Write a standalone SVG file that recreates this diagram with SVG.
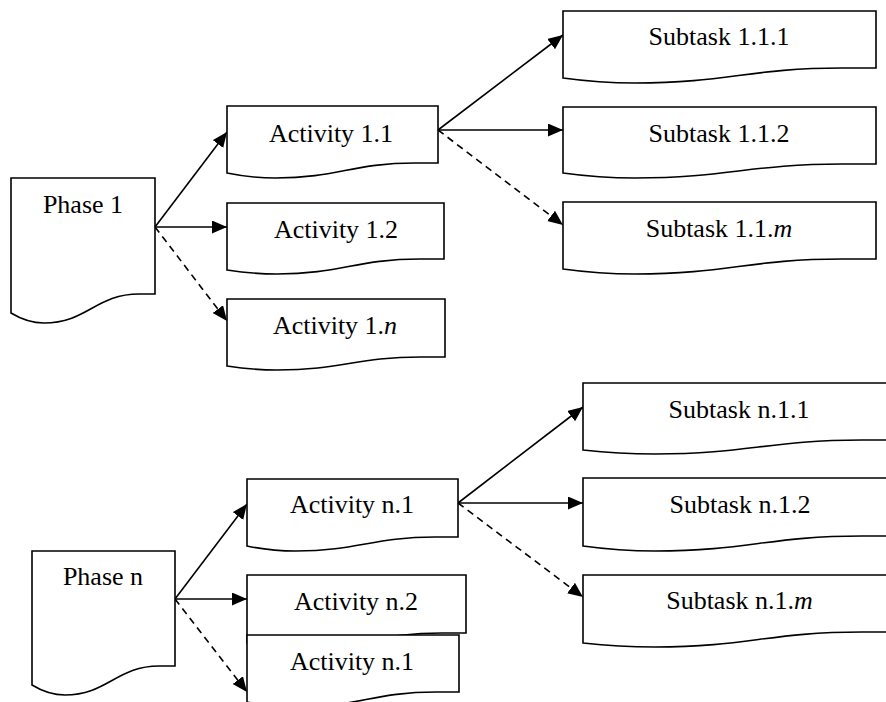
<svg xmlns="http://www.w3.org/2000/svg" width="886" height="702" viewBox="0 0 886 702">
<style>
.box{fill:#fff;stroke:#000;stroke-width:1.6;stroke-linejoin:miter}
.lbl{font-family:"Liberation Serif","Times New Roman",serif;font-size:26px;fill:#000;text-anchor:middle}
.it{font-style:italic}
.con{fill:none;stroke:#000;stroke-width:1.6}
.dash{stroke-dasharray:7,5}
</style>
<defs>
<marker id="arr" markerUnits="userSpaceOnUse" markerWidth="16" markerHeight="14" refX="15" refY="6.5" orient="auto">
<path d="M0,0 L15,6.5 L0,13 Z" fill="#000"/>
</marker>
</defs>
<rect width="886" height="702" fill="#fff"/>

<g id="connectors">
<line class="con" x1="155" y1="227" x2="227" y2="132" marker-end="url(#arr)"/>
<line class="con" x1="155" y1="227" x2="227" y2="227" marker-end="url(#arr)"/>
<line class="con dash" x1="155" y1="227" x2="227" y2="321" marker-end="url(#arr)"/>
<line class="con" x1="438" y1="130" x2="563" y2="35" marker-end="url(#arr)"/>
<line class="con" x1="438" y1="130" x2="563" y2="130" marker-end="url(#arr)"/>
<line class="con dash" x1="438" y1="130" x2="563" y2="225" marker-end="url(#arr)"/>
<line class="con" x1="175" y1="599" x2="247" y2="504" marker-end="url(#arr)"/>
<line class="con" x1="175" y1="599" x2="247" y2="599" marker-end="url(#arr)"/>
<line class="con dash" x1="175" y1="599" x2="247" y2="692" marker-end="url(#arr)"/>
<line class="con" x1="458" y1="503" x2="583" y2="407" marker-end="url(#arr)"/>
<line class="con" x1="458" y1="503" x2="583" y2="503" marker-end="url(#arr)"/>
<line class="con dash" x1="458" y1="503" x2="583" y2="597" marker-end="url(#arr)"/>
</g>

<g id="phase1">
<path class="box" d="M11,178 H155 V294 H139 C96,294 87,323 44,323 Q27.5,323 11,313 Z"/>
<text class="lbl" x="83" y="213">Phase 1</text>
</g>
<g id="activity1_1">
<path class="box" d="M227,106 H438 V163 H415 C352,163 338,178 275.5,178 Q251,178 227,173 Z"/>
<text class="lbl" x="331" y="142">Activity 1.1</text>
</g>
<g id="activity1_2">
<path class="box" d="M227,203 H444 V259 H420 C356,259 341,274 277,274 Q252,274 227,270 Z"/>
<text class="lbl" x="336" y="238">Activity 1.2</text>
</g>
<g id="activity1_n">
<path class="box" d="M227,299 H445 V357 H421 C356,357 342,370 277,370 Q252,370 227,366 Z"/>
<text class="lbl" x="335" y="334">Activity 1.<tspan class="it">n</tspan></text>
</g>
<g id="subtask1_1_1">
<path class="box" d="M563,11 H876 V68 H842 C749,68 728,83 635,83 Q599,83 563,78 Z"/>
<text class="lbl" x="719" y="45">Subtask 1.1.1</text>
</g>
<g id="subtask1_1_2">
<path class="box" d="M563,107 H876 V164 H842 C749,164 728,178 635,178 Q599,178 563,173 Z"/>
<text class="lbl" x="719" y="142">Subtask 1.1.2</text>
</g>
<g id="subtask1_1_m">
<path class="box" d="M563,202 H876 V259 H842 C749,259 728,274 635,274 Q599,274 563,269 Z"/>
<text class="lbl" x="719" y="237">Subtask 1.1.<tspan class="it">m</tspan></text>
</g>

<g id="phaseN">
<path class="box" d="M32,551 H175 V666 H159 C117,666 107,695 65,695 Q48.5,695 32,685 Z"/>
<text class="lbl" x="103" y="585">Phase n</text>
</g>
<g id="activityN_1">
<path class="box" d="M247,479 H458 V537 H435 C372,537 358.5,551 295.5,551 Q271,551 247,546 Z"/>
<text class="lbl" x="352" y="513">Activity n.1</text>
</g>
<g id="activityN_2">
<path class="box" d="M247,575 H466 V633 H442 C377,633 362,648 297,648 Q272,648 247,643 Z"/>
<text class="lbl" x="356" y="610">Activity n.2</text>
</g>
<g id="activityN_1b">
<path class="box" d="M247,635 H459 V692 H436 C373,692 359,707 296,707 Q271.5,707 247,702 Z"/>
<text class="lbl" x="352" y="670">Activity n.1</text>
</g>
<g id="subtaskN_1_1">
<path class="box" d="M583,383 H896 V440 H862 C769,440 748,454 655,454 Q619,454 583,450 Z"/>
<text class="lbl" x="739" y="418">Subtask n.1.1</text>
</g>
<g id="subtaskN_1_2">
<path class="box" d="M583,478 H896 V536 H862 C769,536 748,551 655,551 Q619,551 583,546 Z"/>
<text class="lbl" x="740" y="513">Subtask n.1.2</text>
</g>
<g id="subtaskN_1_m">
<path class="box" d="M583,575 H896 V632 H862 C769,632 748,647 655,647 Q619,647 583,643 Z"/>
<text class="lbl" x="739.5" y="609">Subtask n.1.<tspan class="it">m</tspan></text>
</g>
</svg>
